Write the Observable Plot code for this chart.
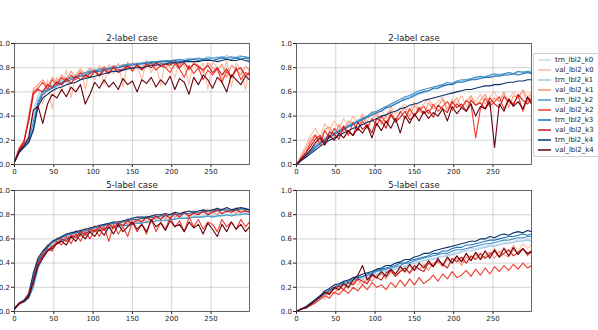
<!DOCTYPE html>
<html>
<head>
<meta charset="utf-8">
<script src="https://cdn.jsdelivr.net/npm/d3@7"></script>
<script src="https://cdn.jsdelivr.net/npm/@observablehq/plot@0.6"></script>
<style>
  html, body { margin: 0; padding: 0; background: #fff; }
  #root { position: relative; width: 598px; height: 330px; overflow: hidden; font-family: "DejaVu Sans", sans-serif; }
  .panel { position: absolute; }
  #legend { position: absolute; left: 533px; top: 53px; width: 70px; border: 1px solid #d0d0d0; border-radius: 2px; background: #fff; padding: 1px 0 1px 4px; font-size: 7px; color: #222; }
  #legend .row { display: flex; align-items: center; height: 10px; white-space: nowrap; }
  #legend svg { margin-right: 4px; flex: none; }
</style>
</head>
<body>
<div id="root"></div>
<script>
const epochs = [0,6,12,18,24,30,36,42,48,54,60,66,72,78,84,90,96,102,108,114,120,126,132,138,144,150,156,162,168,174,180,186,192,198,204,210,216,222,228,234,240,246,252,258,264,270,276,282,288,294,299];
const xTicks = [0, 50, 100, 150, 200, 250];
const yTicks = [0, 0.2, 0.4, 0.6, 0.8, 1.0];
const panelTitles = ["2-label case", "2-label case", "5-label case", "5-label case"];
const seriesNames = ["trn_lbl2_k0","val_lbl2_k0","trn_lbl2_k1","val_lbl2_k1","trn_lbl2_k2","val_lbl2_k2","trn_lbl2_k3","val_lbl2_k3","trn_lbl2_k4","val_lbl2_k4"];
const seriesColors = ["#c6dbef","#fcbba1","#9ecae1","#fc9272","#4292c6","#ef3b2c","#2171b5","#cb181d","#08306b","#67000d"];

// ---- top-left: 2-label case ----
const tl_trn_k0 = [0.02,0.12,0.17,0.24,0.45,0.58,0.62,0.64,0.66,0.68, 0.70,0.71,0.72,0.74,0.75,0.76,0.76,0.78,0.78,0.79, 0.80,0.80,0.81,0.81,0.82,0.82,0.83,0.83,0.84,0.84, 0.84,0.85,0.85,0.85,0.86,0.86,0.86,0.86,0.87,0.87, 0.87,0.87,0.88,0.88,0.88,0.88,0.89,0.88,0.89,0.89,0.88];
const tl_val_k0 = [0.03,0.13,0.20,0.35,0.58,0.64,0.50,0.70,0.46,0.72, 0.60,0.78,0.55,0.74,0.80,0.62,0.79,0.70,0.82,0.66, 0.83,0.75,0.84,0.64,0.85,0.78,0.82,0.70,0.86,0.76, 0.84,0.65,0.86,0.80,0.72,0.85,0.82,0.66,0.86,0.78, 0.84,0.62,0.85,0.80,0.70,0.86,0.64,0.84,0.78,0.62,0.80];
const tl_trn_k1 = [0.03,0.11,0.16,0.22,0.40,0.55,0.61,0.65,0.65,0.69, 0.69,0.72,0.71,0.74,0.76,0.75,0.77,0.79,0.78,0.80, 0.79,0.81,0.82,0.81,0.83,0.82,0.84,0.83,0.85,0.84, 0.85,0.86,0.85,0.86,0.87,0.86,0.87,0.88,0.87,0.88, 0.87,0.89,0.88,0.89,0.88,0.90,0.88,0.89,0.90,0.88,0.89];
const tl_val_k1 = [0.03,0.14,0.19,0.40,0.62,0.66,0.70,0.64,0.72,0.68, 0.74,0.70,0.77,0.72,0.78,0.75,0.80,0.76,0.79,0.81, 0.78,0.82,0.80,0.83,0.79,0.84,0.82,0.80,0.85,0.83, 0.82,0.85,0.80,0.84,0.86,0.82,0.85,0.78,0.84,0.82, 0.76,0.84,0.80,0.78,0.83,0.72,0.82,0.79,0.74,0.81,0.78];
const tl_trn_k2 = [0.02,0.10,0.15,0.20,0.35,0.52,0.60,0.62,0.64,0.67, 0.68,0.70,0.72,0.72,0.74,0.76,0.77,0.77,0.79,0.79, 0.80,0.81,0.80,0.82,0.83,0.83,0.83,0.84,0.84,0.85, 0.85,0.85,0.86,0.86,0.86,0.87,0.86,0.87,0.87,0.88, 0.87,0.88,0.88,0.88,0.89,0.88,0.89,0.88,0.89,0.89,0.88];
const tl_val_k2 = [0.02,0.12,0.18,0.38,0.60,0.63,0.68,0.62,0.70,0.66, 0.72,0.68,0.74,0.70,0.76,0.72,0.75,0.78,0.74,0.80, 0.76,0.81,0.78,0.79,0.82,0.77,0.83,0.79,0.81,0.84, 0.78,0.82,0.80,0.76,0.83,0.79,0.72,0.82,0.75,0.80, 0.70,0.78,0.74,0.79,0.68,0.77,0.72,0.80,0.70,0.76,0.74];
const tl_trn_k3 = [0.03,0.11,0.15,0.19,0.30,0.50,0.58,0.61,0.63,0.65, 0.67,0.69,0.70,0.72,0.73,0.74,0.76,0.77,0.77,0.78, 0.79,0.80,0.80,0.81,0.82,0.82,0.83,0.83,0.84,0.84, 0.84,0.85,0.85,0.85,0.86,0.85,0.86,0.86,0.87,0.86, 0.87,0.87,0.86,0.87,0.88,0.87,0.87,0.88,0.87,0.88,0.87];
const tl_val_k3 = [0.02,0.13,0.19,0.36,0.58,0.62,0.60,0.66,0.64,0.68, 0.66,0.71,0.67,0.73,0.70,0.74,0.72,0.77,0.73,0.78, 0.75,0.80,0.76,0.78,0.81,0.79,0.82,0.78,0.83,0.80, 0.84,0.81,0.83,0.82,0.85,0.80,0.84,0.79,0.83,0.81, 0.78,0.82,0.76,0.80,0.74,0.79,0.72,0.78,0.80,0.73,0.76];
const tl_trn_k4 = [0.02,0.10,0.14,0.18,0.28,0.48,0.55,0.58,0.61,0.63, 0.64,0.66,0.67,0.68,0.70,0.71,0.72,0.73,0.74,0.75, 0.76,0.77,0.77,0.78,0.79,0.80,0.80,0.80,0.81,0.82, 0.82,0.83,0.83,0.84,0.84,0.84,0.85,0.85,0.85,0.85, 0.86,0.86,0.86,0.85,0.86,0.87,0.86,0.86,0.87,0.86,0.85];
const tl_val_k4 = [0.02,0.11,0.16,0.22,0.45,0.48,0.34,0.50,0.58,0.55, 0.62,0.56,0.64,0.60,0.66,0.50,0.58,0.68,0.63,0.70, 0.64,0.68,0.62,0.71,0.66,0.69,0.60,0.70,0.67,0.72, 0.64,0.70,0.66,0.73,0.62,0.71,0.68,0.58,0.72,0.66, 0.74,0.70,0.63,0.72,0.68,0.60,0.74,0.70,0.66,0.73,0.70];

// ---- top-right: 2-label case ----
const tr_trn_k0 = [0.00,0.05,0.09,0.13,0.17,0.20,0.23,0.25,0.28,0.29, 0.31,0.33,0.34,0.36,0.38,0.39,0.41,0.43,0.45,0.46, 0.48,0.50,0.52,0.53,0.55,0.56,0.58,0.59,0.61,0.62, 0.63,0.64,0.66,0.67,0.68,0.68,0.69,0.70,0.71,0.72, 0.72,0.73,0.74,0.74,0.75,0.76,0.75,0.77,0.76,0.77,0.78];
const tr_val_k0 = [0.00,0.08,0.16,0.24,0.30,0.22,0.34,0.28,0.36,0.30, 0.38,0.32,0.40,0.35,0.42,0.36,0.44,0.40,0.46,0.38, 0.48,0.42,0.47,0.50,0.44,0.52,0.46,0.50,0.54,0.48, 0.52,0.56,0.46,0.54,0.50,0.57,0.48,0.55,0.52,0.58, 0.50,0.56,0.60,0.52,0.58,0.54,0.60,0.55,0.62,0.56,0.60];
const tr_trn_k1 = [0.00,0.04,0.08,0.12,0.16,0.19,0.22,0.24,0.27,0.29, 0.30,0.33,0.34,0.37,0.38,0.40,0.42,0.44,0.45,0.48, 0.49,0.51,0.52,0.55,0.56,0.58,0.59,0.61,0.61,0.63, 0.64,0.65,0.66,0.67,0.68,0.69,0.70,0.70,0.71,0.72, 0.73,0.73,0.74,0.75,0.74,0.76,0.75,0.76,0.77,0.76,0.76];
const tr_val_k1 = [0.00,0.07,0.13,0.21,0.25,0.19,0.29,0.31,0.23,0.33, 0.27,0.36,0.34,0.28,0.40,0.32,0.37,0.43,0.33,0.41, 0.45,0.36,0.43,0.47,0.40,0.49,0.44,0.42,0.51,0.46, 0.48,0.54,0.45,0.50,0.55,0.47,0.52,0.57,0.49,0.53, 0.58,0.50,0.55,0.52,0.60,0.47,0.57,0.55,0.61,0.52,0.58];
const tr_trn_k2 = [0.00,0.04,0.07,0.11,0.15,0.18,0.21,0.24,0.26,0.28, 0.30,0.32,0.34,0.36,0.38,0.40,0.43,0.44,0.46,0.48, 0.50,0.52,0.54,0.56,0.57,0.59,0.61,0.62,0.63,0.64, 0.65,0.66,0.68,0.67,0.69,0.70,0.70,0.71,0.72,0.73, 0.72,0.74,0.75,0.74,0.75,0.76,0.75,0.77,0.76,0.77,0.76];
const tr_val_k2 = [0.00,0.05,0.10,0.18,0.24,0.16,0.28,0.22,0.30,0.25, 0.32,0.24,0.35,0.28,0.36,0.30,0.38,0.32,0.40,0.34, 0.42,0.36,0.44,0.38,0.46,0.40,0.45,0.48,0.42,0.50, 0.44,0.48,0.52,0.45,0.50,0.47,0.53,0.50,0.22,0.46, 0.55,0.48,0.52,0.56,0.46,0.54,0.50,0.57,0.44,0.55,0.52];
const tr_trn_k3 = [0.00,0.04,0.07,0.10,0.14,0.17,0.20,0.22,0.25,0.27, 0.29,0.31,0.33,0.35,0.37,0.39,0.41,0.43,0.44,0.47, 0.48,0.50,0.52,0.54,0.55,0.57,0.59,0.60,0.61,0.63, 0.63,0.65,0.66,0.66,0.68,0.68,0.69,0.70,0.70,0.71, 0.72,0.72,0.73,0.73,0.74,0.74,0.75,0.74,0.75,0.76,0.75];
const tr_val_k3 = [0.00,0.05,0.10,0.15,0.21,0.24,0.18,0.27,0.25,0.21, 0.31,0.27,0.24,0.35,0.29,0.33,0.26,0.38,0.36,0.30, 0.41,0.35,0.39,0.44,0.37,0.40,0.47,0.42,0.45,0.39, 0.49,0.46,0.43,0.52,0.47,0.50,0.44,0.53,0.49,0.51, 0.46,0.55,0.50,0.47,0.56,0.52,0.49,0.58,0.53,0.50,0.55];
const tr_trn_k4 = [0.00,0.03,0.06,0.09,0.12,0.15,0.18,0.20,0.22,0.24, 0.26,0.28,0.30,0.31,0.33,0.35,0.36,0.38,0.40,0.41, 0.43,0.44,0.46,0.47,0.49,0.50,0.51,0.53,0.54,0.55, 0.56,0.57,0.58,0.59,0.60,0.61,0.62,0.62,0.63,0.64, 0.65,0.65,0.66,0.66,0.67,0.68,0.68,0.69,0.69,0.70,0.70];
const tr_val_k4 = [0.00,0.04,0.08,0.12,0.18,0.22,0.16,0.24,0.20,0.26, 0.22,0.28,0.24,0.30,0.26,0.32,0.22,0.34,0.28,0.36, 0.30,0.38,0.26,0.40,0.34,0.42,0.36,0.44,0.38,0.43, 0.40,0.46,0.36,0.48,0.42,0.47,0.44,0.50,0.40,0.48, 0.46,0.52,0.14,0.50,0.44,0.54,0.48,0.52,0.46,0.56,0.50];

// ---- bottom-left: 5-label case ----
const bl_trn_k0 = [0.03,0.07,0.09,0.13,0.26,0.40,0.47,0.52,0.56,0.58, 0.60,0.62,0.63,0.64,0.65,0.66,0.67,0.68,0.69,0.70, 0.70,0.71,0.72,0.72,0.73,0.74,0.74,0.75,0.75,0.76, 0.76,0.77,0.77,0.78,0.78,0.78,0.79,0.79,0.79,0.80, 0.80,0.80,0.81,0.81,0.81,0.82,0.81,0.82,0.82,0.82,0.82];
const bl_val_k0 = [0.02,0.07,0.10,0.16,0.30,0.45,0.50,0.56,0.54,0.60, 0.62,0.58,0.66,0.63,0.68,0.64,0.70,0.66,0.72,0.68, 0.73,0.70,0.75,0.71,0.77,0.73,0.78,0.75,0.79,0.76, 0.80,0.77,0.81,0.78,0.82,0.80,0.83,0.79,0.84,0.81, 0.83,0.85,0.82,0.86,0.83,0.85,0.84,0.86,0.83,0.85,0.84];
const bl_trn_k1 = [0.02,0.06,0.08,0.11,0.22,0.38,0.45,0.50,0.54,0.57, 0.59,0.61,0.62,0.63,0.64,0.65,0.66,0.67,0.68,0.68, 0.69,0.70,0.70,0.71,0.72,0.72,0.73,0.73,0.74,0.74, 0.75,0.75,0.76,0.76,0.77,0.77,0.77,0.78,0.78,0.78, 0.79,0.79,0.79,0.79,0.80,0.80,0.80,0.80,0.81,0.80,0.81];
const bl_val_k1 = [0.02,0.07,0.09,0.15,0.29,0.44,0.48,0.55,0.52,0.61, 0.58,0.64,0.60,0.67,0.62,0.69,0.65,0.71,0.66,0.72, 0.69,0.74,0.70,0.75,0.72,0.76,0.74,0.78,0.73,0.79, 0.76,0.80,0.77,0.81,0.78,0.80,0.82,0.78,0.83,0.80, 0.84,0.81,0.83,0.80,0.85,0.82,0.84,0.81,0.85,0.83,0.82];
const bl_trn_k2 = [0.02,0.06,0.08,0.11,0.20,0.36,0.44,0.50,0.54,0.56, 0.58,0.60,0.62,0.63,0.64,0.65,0.66,0.67,0.67,0.68, 0.69,0.69,0.70,0.71,0.71,0.72,0.73,0.73,0.74,0.74, 0.75,0.75,0.75,0.76,0.76,0.77,0.77,0.77,0.78,0.78, 0.78,0.79,0.78,0.79,0.79,0.80,0.79,0.80,0.80,0.81,0.80];
const bl_val_k2 = [0.02,0.06,0.09,0.14,0.26,0.42,0.46,0.52,0.50,0.58, 0.55,0.62,0.56,0.64,0.58,0.66,0.60,0.68,0.62,0.70, 0.58,0.72,0.64,0.70,0.62,0.74,0.66,0.72,0.64,0.76, 0.66,0.74,0.68,0.78,0.70,0.75,0.66,0.78,0.70,0.76, 0.68,0.74,0.72,0.66,0.76,0.70,0.74,0.68,0.76,0.70,0.74];
const bl_trn_k3 = [0.02,0.07,0.09,0.13,0.28,0.42,0.48,0.53,0.57,0.59, 0.61,0.63,0.64,0.65,0.66,0.67,0.68,0.69,0.70,0.71, 0.72,0.73,0.73,0.74,0.75,0.76,0.76,0.77,0.77,0.78, 0.78,0.79,0.79,0.80,0.80,0.80,0.81,0.81,0.82,0.82, 0.82,0.83,0.83,0.83,0.84,0.84,0.83,0.84,0.85,0.84,0.84];
const bl_val_k3 = [0.02,0.06,0.09,0.13,0.25,0.40,0.46,0.50,0.54,0.56, 0.60,0.58,0.63,0.61,0.66,0.63,0.68,0.66,0.70,0.67, 0.72,0.69,0.73,0.71,0.75,0.72,0.76,0.74,0.78,0.75, 0.79,0.76,0.80,0.77,0.81,0.78,0.82,0.79,0.81,0.80, 0.83,0.80,0.82,0.84,0.81,0.83,0.82,0.84,0.82,0.83,0.82];
const bl_trn_k4 = [0.03,0.07,0.09,0.14,0.32,0.44,0.50,0.54,0.58,0.60, 0.62,0.64,0.65,0.66,0.67,0.68,0.69,0.70,0.71,0.72, 0.73,0.74,0.74,0.75,0.76,0.77,0.78,0.78,0.78,0.79, 0.80,0.80,0.81,0.80,0.82,0.81,0.82,0.83,0.82,0.83, 0.84,0.83,0.84,0.85,0.84,0.86,0.84,0.85,0.86,0.85,0.84];
const bl_val_k4 = [0.02,0.07,0.08,0.12,0.24,0.38,0.44,0.50,0.52,0.56, 0.58,0.55,0.62,0.58,0.64,0.60,0.66,0.62,0.68,0.63, 0.70,0.64,0.72,0.66,0.70,0.74,0.68,0.72,0.66,0.76, 0.70,0.73,0.67,0.75,0.70,0.72,0.66,0.74,0.69,0.72, 0.64,0.73,0.68,0.62,0.72,0.66,0.74,0.68,0.72,0.66,0.70];

// ---- bottom-right: 5-label case ----
const br_trn_k0 = [0.00,0.02,0.03,0.05,0.08,0.11,0.14,0.17,0.19,0.21, 0.22,0.24,0.25,0.26,0.28,0.29,0.30,0.31,0.33,0.34, 0.35,0.36,0.37,0.38,0.39,0.40,0.41,0.42,0.43,0.44, 0.45,0.46,0.47,0.48,0.49,0.50,0.51,0.52,0.52,0.53, 0.54,0.55,0.55,0.56,0.57,0.57,0.58,0.59,0.59,0.60,0.60];
const br_val_k0 = [0.00,0.02,0.03,0.05,0.08,0.12,0.10,0.16,0.19,0.17, 0.22,0.20,0.25,0.22,0.27,0.24,0.30,0.27,0.32,0.28, 0.34,0.30,0.36,0.32,0.38,0.34,0.40,0.36,0.41,0.38, 0.43,0.39,0.45,0.41,0.46,0.42,0.48,0.44,0.49,0.45, 0.50,0.46,0.52,0.48,0.53,0.49,0.55,0.50,0.56,0.52,0.55];
const br_trn_k1 = [0.00,0.02,0.03,0.05,0.08,0.10,0.13,0.16,0.18,0.20, 0.22,0.23,0.25,0.26,0.27,0.29,0.30,0.31,0.32,0.33, 0.34,0.35,0.37,0.37,0.39,0.40,0.41,0.42,0.43,0.43, 0.45,0.45,0.46,0.47,0.48,0.49,0.50,0.50,0.51,0.52, 0.53,0.54,0.54,0.55,0.56,0.56,0.57,0.58,0.58,0.59,0.58];
const br_val_k1 = [0.00,0.02,0.04,0.06,0.09,0.12,0.13,0.17,0.15,0.20, 0.22,0.19,0.24,0.26,0.22,0.28,0.25,0.30,0.31,0.27, 0.33,0.29,0.34,0.36,0.31,0.37,0.35,0.39,0.34,0.40, 0.41,0.37,0.43,0.40,0.44,0.38,0.45,0.42,0.47,0.43, 0.46,0.49,0.44,0.50,0.47,0.45,0.51,0.48,0.52,0.46,0.50];
const br_trn_k2 = [0.00,0.02,0.03,0.06,0.09,0.12,0.15,0.17,0.20,0.21, 0.23,0.24,0.26,0.27,0.29,0.30,0.31,0.33,0.34,0.35, 0.36,0.37,0.38,0.40,0.40,0.42,0.43,0.44,0.45,0.46, 0.47,0.48,0.48,0.50,0.51,0.51,0.52,0.53,0.54,0.55, 0.56,0.56,0.57,0.58,0.59,0.59,0.60,0.61,0.61,0.62,0.62];
const br_val_k2 = [0.00,0.02,0.03,0.05,0.07,0.10,0.13,0.11,0.16,0.14, 0.18,0.15,0.20,0.17,0.22,0.18,0.24,0.20,0.22,0.18, 0.24,0.20,0.26,0.21,0.27,0.22,0.28,0.23,0.26,0.30, 0.25,0.31,0.27,0.33,0.28,0.30,0.34,0.29,0.35,0.30, 0.36,0.31,0.37,0.33,0.38,0.34,0.39,0.35,0.40,0.36,0.38];
const br_trn_k3 = [0.00,0.02,0.04,0.06,0.09,0.12,0.15,0.18,0.20,0.22, 0.24,0.25,0.27,0.28,0.29,0.31,0.32,0.34,0.35,0.36, 0.37,0.38,0.40,0.40,0.42,0.43,0.44,0.45,0.46,0.48, 0.48,0.50,0.50,0.52,0.53,0.53,0.55,0.55,0.56,0.57, 0.58,0.59,0.59,0.60,0.61,0.62,0.62,0.63,0.64,0.63,0.64];
const br_val_k3 = [0.00,0.02,0.03,0.06,0.09,0.13,0.16,0.15,0.19,0.21, 0.18,0.24,0.22,0.27,0.25,0.23,0.30,0.28,0.26,0.32, 0.34,0.29,0.33,0.36,0.32,0.38,0.35,0.33,0.40,0.37, 0.42,0.39,0.36,0.44,0.41,0.45,0.40,0.46,0.43,0.48, 0.44,0.47,0.50,0.45,0.48,0.51,0.46,0.49,0.52,0.47,0.49];
const br_trn_k4 = [0.00,0.02,0.04,0.07,0.10,0.13,0.17,0.19,0.22,0.23, 0.25,0.26,0.28,0.29,0.31,0.32,0.33,0.35,0.36,0.38, 0.38,0.40,0.41,0.43,0.43,0.45,0.46,0.48,0.48,0.50, 0.51,0.52,0.53,0.54,0.55,0.56,0.57,0.58,0.58,0.60, 0.60,0.62,0.61,0.63,0.64,0.63,0.65,0.66,0.65,0.67,0.66];
const br_val_k4 = [0.00,0.02,0.03,0.06,0.09,0.12,0.16,0.14,0.20,0.18, 0.23,0.20,0.26,0.30,0.38,0.26,0.31,0.28,0.33,0.29, 0.35,0.31,0.37,0.33,0.39,0.34,0.40,0.36,0.42,0.37, 0.44,0.38,0.45,0.40,0.46,0.41,0.48,0.42,0.49,0.43, 0.50,0.44,0.51,0.45,0.52,0.46,0.53,0.47,0.52,0.48,0.50];

const panels = [
  {title: panelTitles[0], left: 0, top: 28, ml: 14, series: [tl_trn_k0, tl_val_k0, tl_trn_k1, tl_val_k1, tl_trn_k2, tl_val_k2, tl_trn_k3, tl_val_k3, tl_trn_k4, tl_val_k4]},
  {title: panelTitles[1], left: 280, top: 28, ml: 16, series: [tr_trn_k0, tr_val_k0, tr_trn_k1, tr_val_k1, tr_trn_k2, tr_val_k2, tr_trn_k3, tr_val_k3, tr_trn_k4, tr_val_k4]},
  {title: panelTitles[2], left: 0, top: 175, ml: 14, series: [bl_trn_k0, bl_val_k0, bl_trn_k1, bl_val_k1, bl_trn_k2, bl_val_k2, bl_trn_k3, bl_val_k3, bl_trn_k4, bl_val_k4]},
  {title: panelTitles[3], left: 280, top: 175, ml: 16, series: [br_trn_k0, br_val_k0, br_trn_k1, br_val_k1, br_trn_k2, br_val_k2, br_trn_k3, br_val_k3, br_trn_k4, br_val_k4]}
];

const root = document.getElementById("root");

for (const p of panels) {
  const rows = [];
  p.series.forEach((vals, i) => vals.forEach((v, j) => rows.push({epoch: epochs[j], value: v, name: seriesNames[i]})));
  const w = p.ml + 235 + 3;
  const chart = Plot.plot({
    width: w, height: 150,
    marginLeft: p.ml, marginRight: 3, marginTop: 15, marginBottom: 14,
    style: {fontSize: "7px", fontFamily: "DejaVu Sans, sans-serif", background: "transparent", color: "#222", overflow: "visible"},
    x: {domain: [0, 299], ticks: xTicks, tickSize: 3, tickPadding: 1.5, label: null},
    y: {domain: [0, 1], ticks: yTicks, tickFormat: d3.format(".1f"), tickSize: 3, tickPadding: 1.5, label: null},
    color: {domain: seriesNames, range: seriesColors},
    marks: [
      Plot.gridX(xTicks, {stroke: "#b0b0b0", strokeOpacity: 0.7, strokeWidth: 0.8}),
      Plot.gridY(yTicks, {stroke: "#b0b0b0", strokeOpacity: 0.7, strokeWidth: 0.8}),
      Plot.line(rows, {x: "epoch", y: "value", z: "name", stroke: "name", strokeWidth: 1.1}),
      Plot.frame({stroke: "#444", strokeWidth: 0.8}),
      Plot.text([p.title], {frameAnchor: "top", lineAnchor: "bottom", dy: -3, fontSize: 8.5, fill: "#222"})
    ]
  });
  chart.classList.add("panel");
  chart.style.left = p.left + "px";
  chart.style.top = p.top + "px";
  root.appendChild(chart);
}

const legend = document.createElement("div");
legend.id = "legend";
const svgNS = "http://www.w3.org/2000/svg";
seriesNames.forEach((n, i) => {
  const row = document.createElement("div");
  row.className = "row";
  const sw = document.createElementNS(svgNS, "svg");
  sw.setAttribute("width", "13");
  sw.setAttribute("height", "10");
  const ln = document.createElementNS(svgNS, "line");
  ln.setAttribute("x1", "0"); ln.setAttribute("x2", "13");
  ln.setAttribute("y1", "5"); ln.setAttribute("y2", "5");
  ln.setAttribute("stroke", seriesColors[i]);
  ln.setAttribute("stroke-width", "1.5");
  sw.appendChild(ln);
  const t = document.createElement("span");
  t.textContent = n;
  row.appendChild(sw);
  row.appendChild(t);
  legend.appendChild(row);
});
root.appendChild(legend);
</script>
</body>
</html>
